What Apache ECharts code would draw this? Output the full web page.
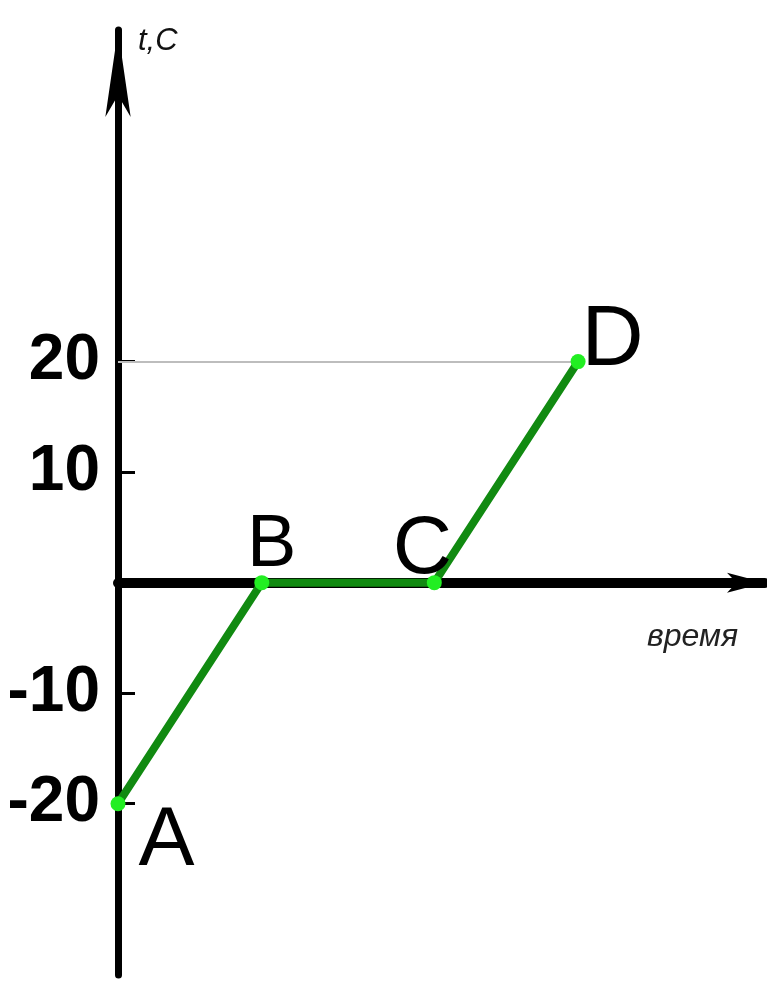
<!DOCTYPE html>
<html>
<head>
<meta charset="utf-8">
<script src="https://cdn.jsdelivr.net/npm/echarts@6/dist/echarts.min.js"></script>
<style>
    html, body { margin: 0; padding: 0; background: #fff; }
    #chart { width: 767px; height: 982px; }
</style>
</head>
<body>
<div id="chart"></div>
<script>
// точки графика: время и температура
const pointNames = ['A', 'B', 'C', 'D'];
const timeValues = [0, 5, 11, 16];
const tempValues = [-20, 0, 0, 20];
// подписи оси температуры
const tempTicks = [-20, -10, 10, 20];

const handFont = "'Liberation Sans', sans-serif";

// где стоит буква у каждой точки
const labelPlace = {
    A: { position: 'right', offset: [8, 38], fontSize: 84 },
    B: { position: 'top', offset: [10, 12], fontSize: 74 },
    C: { position: 'top', offset: [-12, 21], fontSize: 82 },
    D: { position: 'right', offset: [-9, -20], fontSize: 86 }
};

const points = pointNames.map((name, i) => ({
    name: name,
    value: [timeValues[i], tempValues[i]],
    label: labelPlace[name]
}));

const chart = echarts.init(document.getElementById('chart'));

chart.setOption({
    animation: false,
    backgroundColor: '#fff',
    grid: {
        left: 118,
        right: 2,
        top: 30,
        bottom: 7,
        containLabel: false,
        outerBoundsMode: 'none'
    },
    xAxis: {
        type: 'value',
        min: 0,
        max: 22.5,
        name: 'время',
        nameLocation: 'end',
        nameGap: -118,
        nameTextStyle: {
            fontSize: 32,
            fontStyle: 'italic',
            fontFamily: 'Liberation Sans',
            color: '#222',
            align: 'left',
            verticalAlign: 'top',
            padding: [38, 0, 0, 0]
        },
        axisLine: {
            onZero: true,
            symbol: ['none', 'arrow'],
            symbolSize: [15, 38],
            lineStyle: { color: '#000', width: 10 }
        },
        axisTick: { show: false },
        axisLabel: { show: false },
        splitLine: { show: false }
    },
    yAxis: {
        type: 'value',
        min: -35.5,
        max: 50,
        name: 't,C',
        nameLocation: 'end',
        nameGap: -27,
        nameTextStyle: {
            fontSize: 31,
            fontStyle: 'italic',
            fontFamily: 'Liberation Sans',
            color: '#111',
            align: 'left',
            verticalAlign: 'bottom',
            padding: [0, 0, 0, 20]
        },
        axisLine: {
            symbol: ['none', 'arrow'],
            symbolSize: [19, 87],
            lineStyle: { color: '#000', width: 7 }
        },
        axisTick: {
            show: true,
            inside: true,
            length: 17,
            customValues: tempTicks,
            lineStyle: { color: '#000', width: 3 }
        },
        axisLabel: {
            customValues: tempTicks,
            margin: 18,
            fontSize: 64,
            fontWeight: 'bold',
            fontFamily: handFont,
            color: '#000'
        },
        splitLine: { show: false }
    },
    series: [
        {
            type: 'line',
            data: points,
            symbol: 'circle',
            symbolSize: 15,
            itemStyle: { color: '#22ee22' },
            lineStyle: { color: '#118a11', width: 8 },
            label: {
                show: true,
                formatter: '{b}',
                color: '#000',
                fontFamily: handFont
            },
            markLine: {
                silent: true,
                symbol: 'none',
                label: { show: false },
                lineStyle: { color: '#bdbdbd', width: 2, type: 'solid' },
                data: [
                    [{ coord: [0, tempValues[3]] }, { coord: [timeValues[3], tempValues[3]] }]
                ]
            },
            z: 5
        }
    ]
});
</script>
</body>
</html>
